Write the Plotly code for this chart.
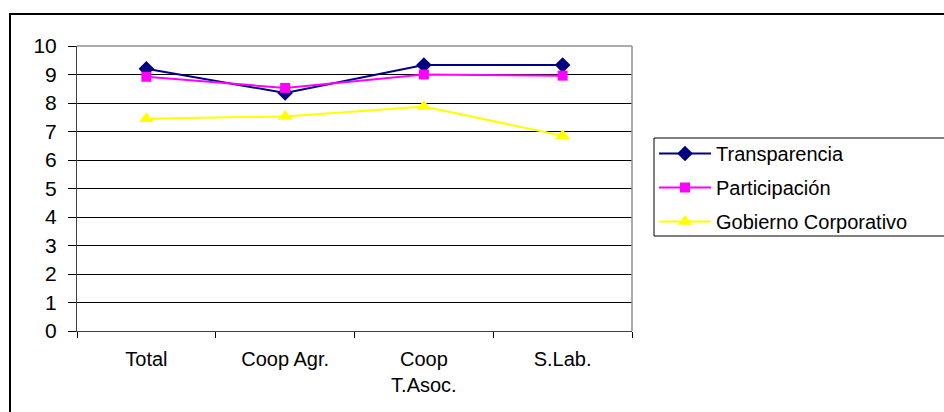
import plotly.graph_objects as go

categories = ["Total", "Coop Agr.", "Coop<br>T.Asoc.", "S.Lab."]
transparencia = [9.2, 8.35, 9.33, 9.33]
participacion = [8.92, 8.53, 9.0, 8.96]
gobierno = [7.45, 7.53, 7.88, 6.85]
y_ticks = list(range(0, 11))

FONT = "Liberation Sans, Arial, sans-serif"

fig = go.Figure()
fig.add_trace(go.Scatter(x=categories, y=transparencia, name="Transparencia",
                         mode="lines+markers", legendgroup="a",
                         line=dict(color="#000080", width=2),
                         marker=dict(symbol="diamond", size=12, color="#000080")))
fig.add_trace(go.Scatter(x=categories, y=participacion, name="Participación",
                         mode="lines+markers", legendgroup="b",
                         line=dict(color="#FF00FF", width=2),
                         marker=dict(symbol="square", size=10, color="#FF00FF")))
fig.add_trace(go.Scatter(x=categories, y=gobierno, name="Gobierno Corporativo",
                         mode="lines+markers", legendgroup="c",
                         line=dict(color="#FFFF00", width=2),
                         marker=dict(symbol="triangle-up", size=13, color="#FFFF00")))

L, R, T, B = 77, 312, 46, 81
pw = 944 - L - R
ph = 412 - T - B

fig.update_layout(
    width=944, height=412,
    margin=dict(l=L, r=R, t=T, b=B),
    paper_bgcolor="white", plot_bgcolor="white",
    font=dict(family=FONT, size=20, color="black"),
    showlegend=True,
    legend=dict(
        x=(654 - L) / pw, y=1 - (134 - T) / ph,
        xanchor="left", yanchor="top",
        borderwidth=0,
        bgcolor="rgba(0,0,0,0)",
        font=dict(family=FONT, size=20, color="black"),
        itemwidth=52,
        traceorder="grouped",
        tracegroupgap=5,
    ),
    xaxis=dict(
        type="category", range=[-0.5, 3.5],
        tickson="boundaries", ticks="outside", ticklen=6, tickcolor="black",
        showline=True, linecolor="#404040", linewidth=1,
        showgrid=False, zeroline=False,
        tickfont=dict(family=FONT, size=20),
        ticklabelstandoff=10,
        fixedrange=True,
    ),
    yaxis=dict(
        range=[0, 10], tickvals=y_ticks,
        ticks="outside", ticklen=8, tickcolor="black",
        showline=True, linecolor="#404040", linewidth=1,
        showgrid=True, gridcolor="black", gridwidth=1,
        zeroline=False,
        tickfont=dict(family=FONT, size=21),
        ticklabelstandoff=7,
        fixedrange=True,
    ),
    shapes=[
        dict(type="line", xref="paper", yref="paper", x0=0, x1=1, y0=1, y1=1,
             line=dict(color="#909090", width=1.5), layer="above"),
        dict(type="line", xref="paper", yref="paper", x0=1, x1=1, y0=0, y1=1,
             line=dict(color="#909090", width=1.5), layer="above"),
        dict(type="rect", xref="paper", yref="paper",
             x0=(10 - L) / pw, x1=(1000 - L) / pw,
             y0=-(420 - 412 + B) / ph, y1=1 + (T - 14) / ph,
             line=dict(color="black", width=2), layer="below"),
        dict(type="rect", xref="paper", yref="paper",
             x0=(654 - L) / pw, x1=(960 - L) / pw,
             y0=1 - (236 - T) / ph, y1=1 - (138 - T) / ph,
             line=dict(color="black", width=1), layer="below"),
    ],
)

fig.write_html("out.html")
